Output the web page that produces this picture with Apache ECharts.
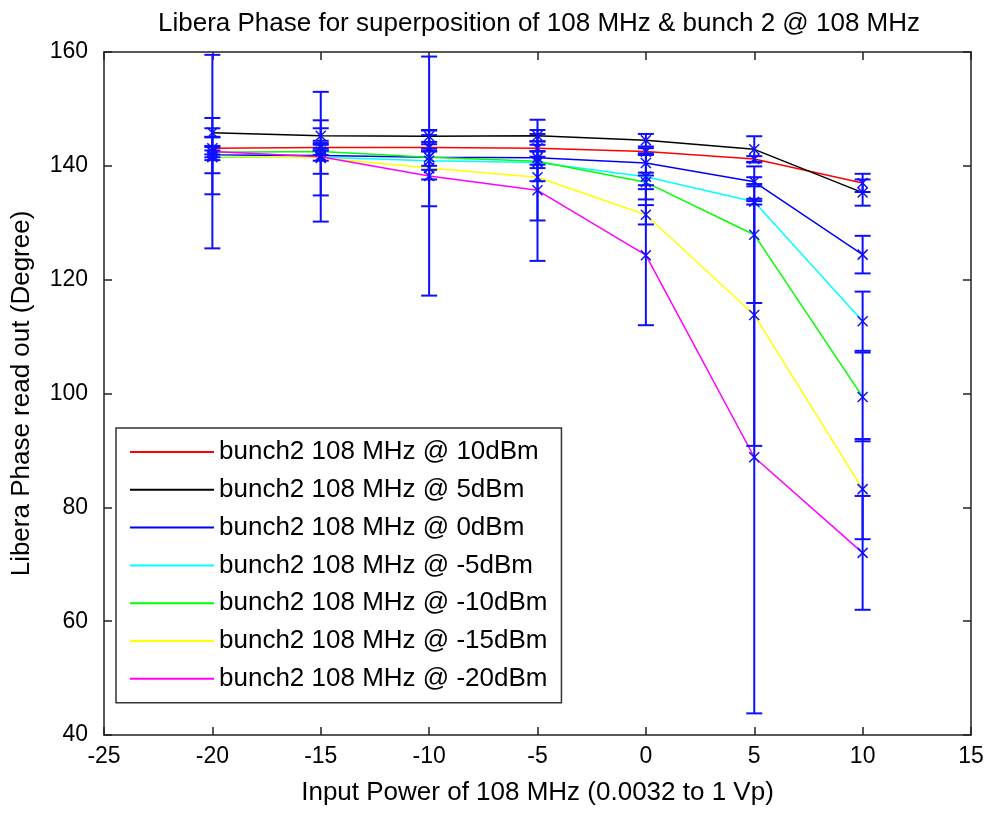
<!DOCTYPE html>
<html>
<head>
<meta charset="utf-8">
<script src="https://cdn.jsdelivr.net/npm/echarts@6/dist/echarts.min.js"></script>
<style>
html,body{margin:0;padding:0;background:#fff;}
#main{width:990px;height:815px;}
</style>
</head>
<body>
<div id="main"></div>
<script>
// input power of 108 MHz (dBm)
var xVals = [-20, -15, -10, -5, 0, 5, 10];

var seriesNames = ['bunch2 108 MHz @ 10dBm', 'bunch2 108 MHz @ 5dBm', 'bunch2 108 MHz @ 0dBm',
	'bunch2 108 MHz @ -5dBm', 'bunch2 108 MHz @ -10dBm', 'bunch2 108 MHz @ -15dBm', 'bunch2 108 MHz @ -20dBm'];
var seriesColors = ['#ff0000', '#000000', '#0000ff', '#00ffff', '#00ff00', '#ffff00', '#ff00ff'];

// phase read out (degree)
var phase10  = [143.1, 143.2, 143.2, 143.1, 142.5, 141.2, 137.0];
var phase5   = [145.8, 145.3, 145.2, 145.3, 144.5, 142.9, 135.3];
var phase0   = [141.9, 141.8, 141.5, 141.4, 140.5, 137.2, 124.4];
var phaseM5  = [141.5, 141.5, 140.9, 140.6, 138.1, 133.7, 112.7];
var phaseM10 = [142.4, 142.5, 141.5, 140.8, 137.1, 127.9, 99.4];
var phaseM15 = [141.7, 141.4, 139.6, 138.0, 131.4, 113.8, 83.2];
var phaseM20 = [142.5, 141.6, 138.2, 135.7, 124.3, 88.8, 72.0];

// error bar half length
var err10  = [0.4, 0.5, 0.6, 0.6, 0.6, 0.5, 1.6];
var err5   = [0.8, 1.3, 1.0, 1.0, 1.1, 2.3, 2.3];
var err0   = [3.2, 0.9, 1.5, 1.2, 1.7, 0.8, 3.3];
var errM5  = [0.5, 2.9, 1.6, 1.0, 4.0, 0.5, 5.2];
var errM10 = [0.9, 0.6, 3.9, 3.5, 1.2, 12.0, 7.8];
var errM15 = [6.7, 6.6, 6.7, 7.6, 1.7, 23.0, 8.8];
var errM20 = [17.0, 11.4, 21.0, 12.4, 12.3, 45.0, 10.0];

var phaseList = [phase10, phase5, phase0, phaseM5, phaseM10, phaseM15, phaseM20];
var errList = [err10, err5, err0, errM5, errM10, errM15, errM20];

var FONT = '"Liberation Sans", Arial, sans-serif';

/**
 * 画误差棒和 x 标记
 */
function renderErrorBar(params, api){
	var x = api.value(0), y = api.value(1), e = api.value(2);
	var top = api.coord([x, y + e]);
	var bot = api.coord([x, y - e]);
	var c = api.coord([x, y]);
	var cap = 8, m = 5;
	var style = {stroke: '#0f0fff', lineWidth: 2};
	return {
		type: 'group',
		children: [
			{type: 'line', shape: {x1: top[0], y1: top[1], x2: bot[0], y2: bot[1]}, style: style},
			{type: 'line', shape: {x1: top[0] - cap, y1: top[1], x2: top[0] + cap, y2: top[1]}, style: style},
			{type: 'line', shape: {x1: bot[0] - cap, y1: bot[1], x2: bot[0] + cap, y2: bot[1]}, style: style},
			{type: 'line', shape: {x1: c[0] - m, y1: c[1] - m, x2: c[0] + m, y2: c[1] + m}, style: {stroke: '#0f0fff', lineWidth: 1.5}},
			{type: 'line', shape: {x1: c[0] - m, y1: c[1] + m, x2: c[0] + m, y2: c[1] - m}, style: {stroke: '#0f0fff', lineWidth: 1.5}}
		]
	};
}

var series = [];
for (var i = 0; i < phaseList.length; i++) {
	var lineData = [], barData = [];
	for (var j = 0; j < xVals.length; j++) {
		lineData.push([xVals[j], phaseList[i][j]]);
		barData.push([xVals[j], phaseList[i][j], errList[i][j]]);
	}
	series.push({
		name: seriesNames[i],
		type: 'line',
		data: lineData,
		symbol: 'none',
		z: 2,
		lineStyle: {color: seriesColors[i], width: 1.5},
		itemStyle: {color: seriesColors[i]},
		animation: false
	});
	series.push({
		type: 'custom',
		data: barData,
		renderItem: renderErrorBar,
		z: 3,
		silent: true,
		animation: false
	});
}

var myChart = echarts.init(document.getElementById('main'));
var axisLineStyle = {color: '#222', width: 1.5};
option = {
	backgroundColor: '#fff',
	animation: false,
	title: {
		text: 'Libera Phase for superposition of 108 MHz & bunch 2 @ 108 MHz',
		left: 534, top: 6, textAlign: 'center',
		textStyle: {fontFamily: FONT, fontSize: 26, fontWeight: 'normal', color: '#000'}
	},
	grid: {left: 104, right: 19, top: 52, bottom: 80},
	legend: {
		data: seriesNames,
		orient: 'vertical',
		left: 116, top: 428,
		padding: [11, 14, 11, 14],
		icon: 'rect',
		itemWidth: 84, itemHeight: 2,
		itemGap: 11.8,
		backgroundColor: '#fff',
		borderColor: '#333', borderWidth: 1.5,
		textStyle: {fontFamily: FONT, fontSize: 26, lineHeight: 26, color: '#000'}
	},
	xAxis: [{
		type: 'value', min: -25, max: 15, interval: 5,
		name: 'Input Power of 108 MHz (0.0032 to 1 Vp)',
		nameLocation: 'middle', nameGap: 45,
		nameTextStyle: {fontFamily: FONT, fontSize: 26, color: '#000'},
		axisLine: {onZero: false, lineStyle: axisLineStyle},
		axisTick: {inside: true, length: 8, lineStyle: axisLineStyle},
		axisLabel: {fontFamily: FONT, fontSize: 23, color: '#000', margin: 10},
		splitLine: {show: false}
	}, {
		type: 'value', min: -25, max: 15, interval: 5, position: 'top',
		axisLine: {onZero: false, lineStyle: axisLineStyle},
		axisTick: {inside: true, length: 8, lineStyle: axisLineStyle},
		axisLabel: {show: false},
		splitLine: {show: false}
	}],
	yAxis: [{
		type: 'value', min: 40, max: 160, interval: 20,
		name: 'Libera Phase read out (Degree)',
		nameLocation: 'middle', nameGap: 69, nameRotate: 90,
		nameTextStyle: {fontFamily: FONT, fontSize: 26, color: '#000'},
		axisLine: {show: true, onZero: false, lineStyle: axisLineStyle},
		axisTick: {show: true, inside: true, length: 8, lineStyle: axisLineStyle},
		axisLabel: {fontFamily: FONT, fontSize: 23, color: '#000', margin: 16},
		splitLine: {show: false}
	}, {
		type: 'value', min: 40, max: 160, interval: 20, position: 'right',
		axisLine: {show: true, onZero: false, lineStyle: axisLineStyle},
		axisTick: {show: true, inside: true, length: 8, lineStyle: axisLineStyle},
		axisLabel: {show: false},
		splitLine: {show: false}
	}],
	series: series
};
myChart.setOption(option);
</script>
</body>
</html>
